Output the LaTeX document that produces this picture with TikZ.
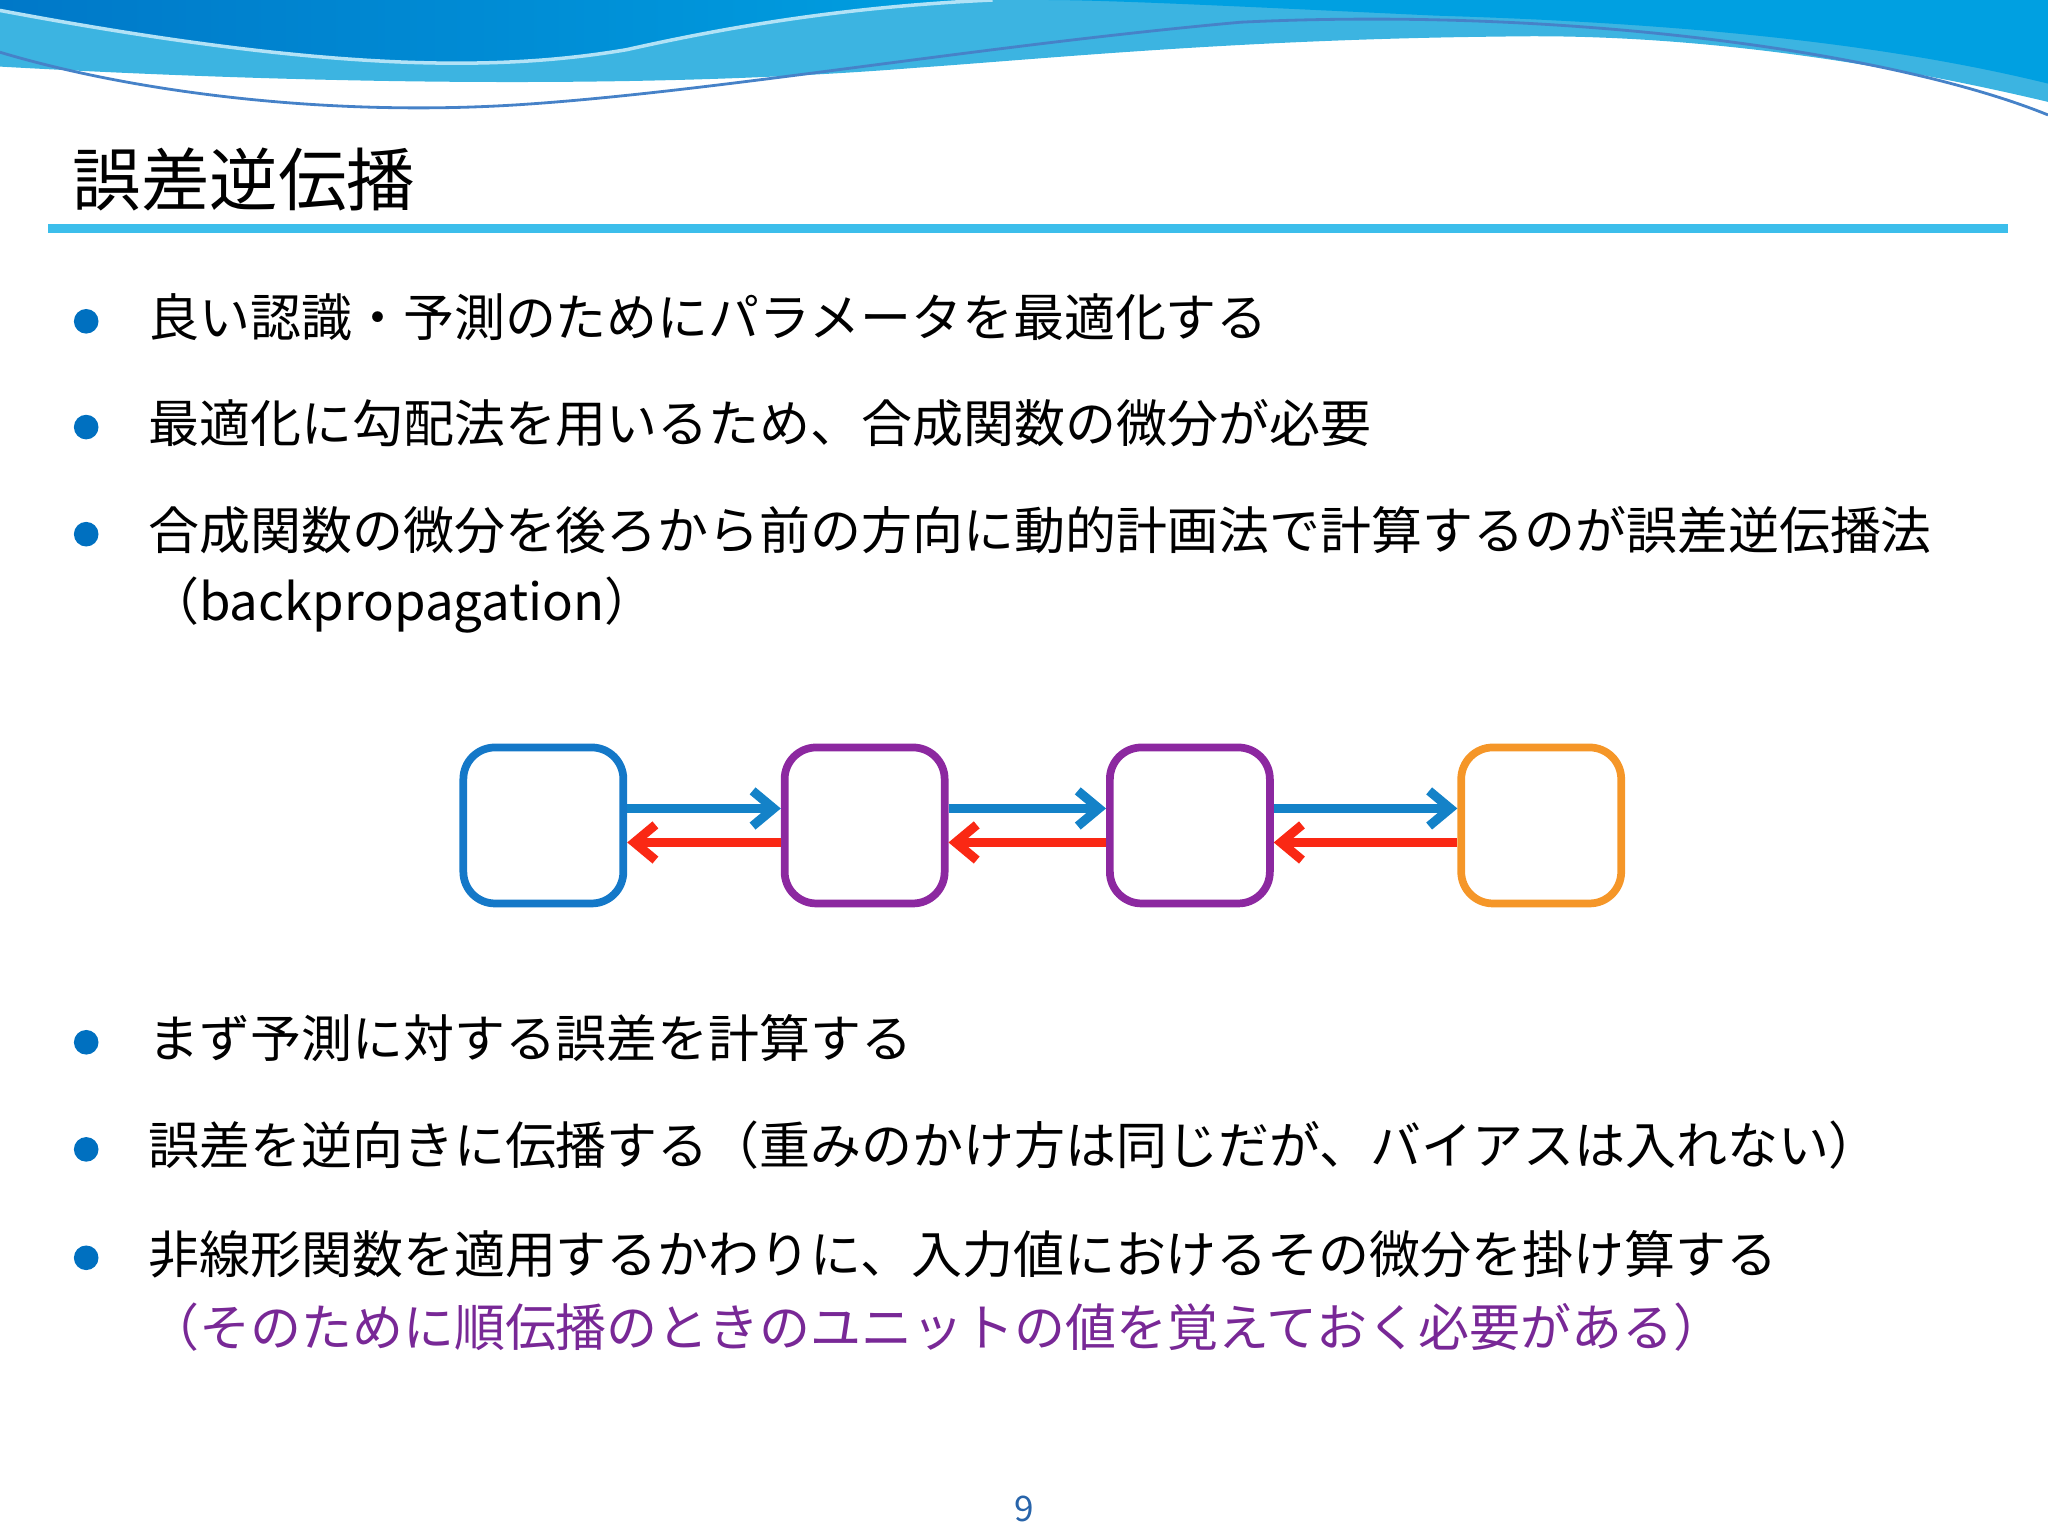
\documentclass[tikz,border=0pt]{standalone}
\usepackage{fontspec}
\setmainfont{Noto Sans CJK JP}
\usetikzlibrary{arrows.meta}
\definecolor{wa}{RGB}{0,160,225}\definecolor{wb}{RGB}{60,180,225}
\definecolor{wd}{RGB}{0,120,200}\definecolor{wl}{RGB}{70,130,200}
\definecolor{pu}{RGB}{120,40,150}\definecolor{fwc}{RGB}{20,130,200}
\definecolor{bwc}{RGB}{250,40,20}\definecolor{bulc}{RGB}{0,112,192}
\definecolor{tl}{RGB}{60,190,235}\definecolor{c1}{RGB}{20,120,200}
\definecolor{c2}{RGB}{140,40,160}\definecolor{c4}{RGB}{245,150,40}
\definecolor{pgc}{RGB}{40,100,170}
\begin{document}
\begin{tikzpicture}[x=0.013061cm,y=-0.013061cm,
  bx/.style={draw,line width=2.2pt,rounded corners=9pt,minimum width=1.6cm,minimum height=1.56cm},
  fw/.style={-{Straight Barb[length=6pt,width=10pt]},line width=2.6pt,draw=fwc},
  bw/.style={-{Straight Barb[length=6pt,width=10pt]},line width=2.6pt,draw=bwc},
  bul/.style={circle,fill=bulc,inner sep=0pt,minimum size=7pt},
  txt/.style={anchor=west,font=\fontsize{14.5pt}{17pt}\selectfont,inner sep=0pt}]
\useasboundingbox (0,0) rectangle (1568,1176);
% wave
\fill[wb] (0,0) -- (1568,0) -- (1568,78) .. controls (1450,50) and (1300,25) .. (1150,28)
  .. controls (950,30) and (800,45) .. (700,52) .. controls (500,68) and (250,65) .. (0,51) -- cycle;
\fill[wa] (0,0) -- (1568,0) -- (1568,64) .. controls (1450,35) and (1300,18) .. (1100,12)
  .. controls (950,5) and (850,0) .. (800,0) -- cycle;
\shade[left color=wd,right color=wa] (0,0) -- (760,0)
  .. controls (650,5) and (560,20) .. (480,38) .. controls (380,55) and (250,55) .. (0,8) -- cycle;
\draw[white!70!wa,line width=1pt] (0,8) .. controls (250,55) and (380,55) .. (480,38) .. controls (560,20) and (650,5) .. (760,0);
\draw[wl,line width=0.8pt] (0,40) .. controls (100,70) and (250,90) .. (400,80)
  .. controls (550,70) and (750,35) .. (950,17) .. controls (1200,5) and (1450,40) .. (1568,88);
% title
\node[anchor=west,inner sep=0pt,font=\fontsize{19.5pt}{22pt}\selectfont] (title) at (55,137) {誤差逆伝播};
\draw[tl,line width=2.5pt] (37,175) -- (1537,175);
% bullets
\foreach \y/\t [count=\i] in {243/良い認識・予測のためにパラメータを最適化する,
  324/最適化に勾配法を用いるため、合成関数の微分が必要,
  406/合成関数の微分を後ろから前の方向に動的計画法で計算するのが誤差逆伝播法,
  795/まず予測に対する誤差を計算する,
  877/誤差を逆向きに伝播する（重みのかけ方は同じだが、バイアスは入れない）,
  960/非線形関数を適用するかわりに、入力値におけるその微分を掛け算する}
  {\node[bul] (b\i) at (66,\y+3) {}; \node[txt] (t\i) at (113,\y) {\t};}
\node[txt] (t3b) at (113,463) {（backpropagation）};
\node[txt,text=pu] (t6b) at (113,1016) {（そのために順伝播のときのユニットの値を覚えておく必要がある）};
% boxes
\node[bx,draw=c1] (n1) at (416,632) {};
\node[bx,draw=c2] (n2) at (662,632) {};
\node[bx,draw=c2] (n3) at (911,632) {};
\node[bx,draw=c4] (n4) at (1180,632) {};
\foreach \a/\b in {n1/n2,n2/n3,n3/n4}{
  \draw[fw] ([yshift=0.17cm]\a.east) -- ([yshift=0.17cm]\b.west);
  \draw[bw] ([yshift=-0.17cm]\b.west) -- ([yshift=-0.17cm]\a.east);}
\node[font=\fontsize{10pt}{12pt}\selectfont,text=pgc] (pg) at (784,1155) {9};
\end{tikzpicture}
\end{document}
